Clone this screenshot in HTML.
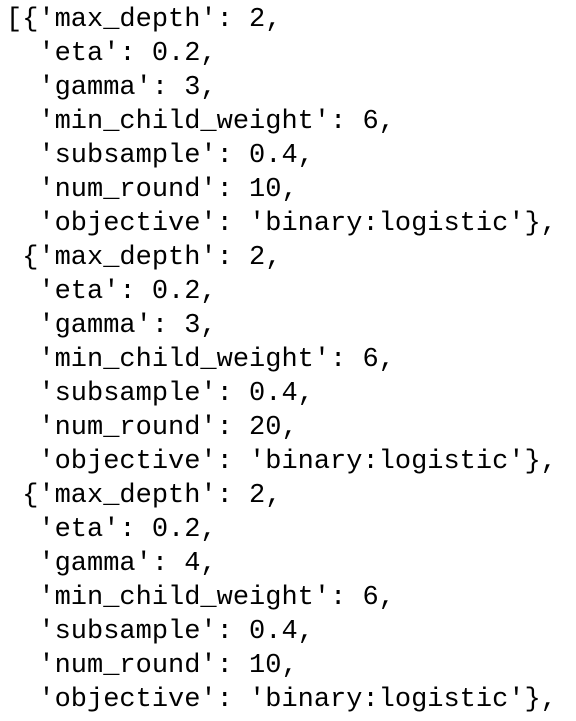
<!DOCTYPE html>
<html><head><style>
html,body{margin:0;padding:0;background:#fff;width:576px;height:721px;overflow:hidden}
pre{margin:0;padding:3px 0 0 6px;font-family:"Liberation Mono",monospace;font-size:27px;line-height:34px;color:#000}
</style></head><body><pre>[{'max_depth': 2,
  'eta': 0.2,
  'gamma': 3,
  'min_child_weight': 6,
  'subsample': 0.4,
  'num_round': 10,
  'objective': 'binary:logistic'},
 {'max_depth': 2,
  'eta': 0.2,
  'gamma': 3,
  'min_child_weight': 6,
  'subsample': 0.4,
  'num_round': 20,
  'objective': 'binary:logistic'},
 {'max_depth': 2,
  'eta': 0.2,
  'gamma': 4,
  'min_child_weight': 6,
  'subsample': 0.4,
  'num_round': 10,
  'objective': 'binary:logistic'},</pre></body></html>
